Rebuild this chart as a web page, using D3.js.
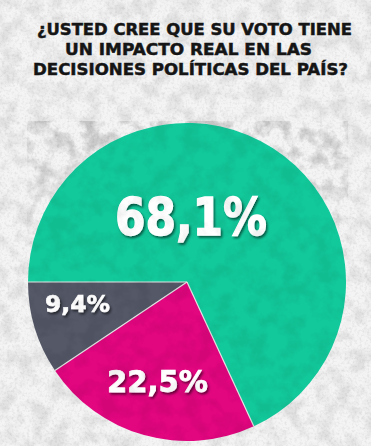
<!DOCTYPE html>
<html>
<head>
<meta charset="utf-8">
<script src="https://cdn.jsdelivr.net/npm/d3@7/dist/d3.min.js"></script>
<style>
  html, body { margin: 0; padding: 0; background: #f1f1f1; }
  svg { display: block; }
</style>
</head>
<body>
<svg id="chart" width="371" height="446"></svg>
<script>
// ---- data ----
const titleLines = ["¿USTED CREE QUE SU VOTO TIENE", "UN IMPACTO REAL EN LAS", "DECISIONES POLÍTICAS DEL PAÍS?"];
const categories = ["Sí", "No", "No sabe"];
const values = [68.1, 22.5, 9.4];
const valueLabels = ["68,1%", "22,5%", "9,4%"];

// ---- styles / layout ----
const W = 371, H = 446;
const colors = ["#12c99b", "#e2067f", "#545867"];
const cx = 187, cy = 282, R = 159;
const titleLayout = [
  { x: 194.5, y: 35, len: 315 },
  { x: 188.5, y: 55, len: 247 },
  { x: 190.5, y: 75, len: 315 }
];
const labelLayout = [
  { dx: 4, dy: -47, size: 52, len: 152 },
  { dx: -29.5, dy: 110, size: 30, len: 101 },
  { dx: -109.5, dy: 30, size: 23, len: 65 }
];

const svg = d3.select("#chart");
const defs = svg.append("defs");

// mottled texture filter
const tex = defs.append("filter").attr("id", "tex")
  .attr("x", 0).attr("y", 0).attr("width", "100%").attr("height", "100%");
tex.append("feTurbulence").attr("type", "fractalNoise")
  .attr("baseFrequency", "0.06").attr("numOctaves", 4).attr("seed", 7).attr("result", "n");
tex.append("feColorMatrix").attr("in", "n").attr("type", "matrix")
  .attr("values", "0 0 0 0 0  0 0 0 0 0  0 0 0 0 0  3.2 0 0 0 -1.3").attr("result", "a");
tex.append("feComposite").attr("in", "a").attr("in2", "SourceGraphic").attr("operator", "in");

const fine = defs.append("filter").attr("id", "fine")
  .attr("x", 0).attr("y", 0).attr("width", "100%").attr("height", "100%");
fine.append("feTurbulence").attr("type", "fractalNoise")
  .attr("baseFrequency", "0.4").attr("numOctaves", 2).attr("seed", 3).attr("result", "n");
fine.append("feColorMatrix").attr("in", "n").attr("type", "matrix")
  .attr("values", "0 0 0 0 0  0 0 0 0 0  0 0 0 0 0  2.5 0 0 0 -1.1").attr("result", "a");
fine.append("feComposite").attr("in", "a").attr("in2", "SourceGraphic").attr("operator", "in");

const shadow = defs.append("filter").attr("id", "shadow")
  .attr("x", "-20%").attr("y", "-20%").attr("width", "140%").attr("height", "150%");
shadow.append("feDropShadow").attr("dx", 1.5).attr("dy", 2).attr("stdDeviation", 1.2)
  .attr("flood-color", "#000").attr("flood-opacity", 0.55);

const fade = defs.append("linearGradient").attr("id", "fade")
  .attr("x1", 0).attr("y1", 0).attr("x2", 0).attr("y2", 1);
fade.append("stop").attr("offset", "0%").attr("stop-color", "#fff").attr("stop-opacity", 1);
fade.append("stop").attr("offset", "100%").attr("stop-color", "#fff").attr("stop-opacity", 0);
const fadeMask = defs.append("mask").attr("id", "fadeMask");
fadeMask.append("rect").attr("x", 27).attr("y", 121).attr("width", 321).attr("height", 150)
  .attr("fill", "url(#fade)");

defs.append("clipPath").attr("id", "pieClip")
  .append("circle").attr("cx", cx).attr("cy", cy).attr("r", R);

// background
svg.append("rect").attr("width", W).attr("height", H).attr("fill", "#f4f4f4");
svg.append("rect").attr("width", W).attr("height", H).attr("fill", "#000")
  .attr("filter", "url(#tex)").attr("opacity", 0.07);
svg.append("rect").attr("width", W).attr("height", H).attr("fill", "#000")
  .attr("filter", "url(#fine)").attr("opacity", 0.06);
// darker textured panel behind the pie
const panel = svg.append("g").attr("mask", "url(#fadeMask)");
panel.append("rect").attr("x", 27).attr("y", 121).attr("width", 321).attr("height", 150)
  .attr("fill", "#000").attr("filter", "url(#tex)").attr("opacity", 0.12);

// title
svg.append("g").selectAll("text").data(titleLines).join("text")
  .attr("x", (d, i) => titleLayout[i].x)
  .attr("y", (d, i) => titleLayout[i].y)
  .attr("text-anchor", "middle")
  .attr("textLength", (d, i) => titleLayout[i].len)
  .attr("lengthAdjust", "spacingAndGlyphs")
  .attr("font-family", "'DejaVu Sans', sans-serif")
  .attr("font-weight", "bold")
  .attr("font-size", 16.5)
  .attr("fill", "#151515")
  .attr("stroke", "#151515")
  .attr("stroke-width", 0.5)
  .text(d => d);

// pie
const pie = d3.pie().sort(null).value(d => d)
  .startAngle(-Math.PI / 2).endAngle(3 * Math.PI / 2);
const arc = d3.arc().innerRadius(0).outerRadius(R);
const arcs = pie(values);

const g = svg.append("g").attr("transform", `translate(${cx},${cy})`);
g.selectAll("path").data(arcs).join("path")
  .attr("d", arc)
  .attr("fill", (d, i) => colors[i]);

// subtle texture over the pie
const pt = svg.append("g").attr("clip-path", "url(#pieClip)");
pt.append("rect").attr("x", cx - R).attr("y", cy - R).attr("width", 2 * R).attr("height", 2 * R)
  .attr("fill", "#000").attr("filter", "url(#tex)").attr("opacity", 0.06);
// slice borders on top
g.selectAll("line.sep").data(arcs).join("line")
  .attr("class", "sep")
  .attr("x1", 0).attr("y1", 0)
  .attr("x2", d => R * Math.sin(d.startAngle))
  .attr("y2", d => -R * Math.cos(d.startAngle))
  .attr("stroke", "#e4e4e4").attr("stroke-width", 1.2);

// labels
g.selectAll("text.lbl").data(arcs).join("text")
  .attr("class", "lbl")
  .attr("x", (d, i) => labelLayout[i].dx)
  .attr("y", (d, i) => labelLayout[i].dy)
  .attr("text-anchor", "middle")
  .attr("textLength", (d, i) => labelLayout[i].len)
  .attr("lengthAdjust", "spacingAndGlyphs")
  .attr("font-family", "'DejaVu Sans', sans-serif")
  .attr("font-weight", "bold")
  .attr("font-size", (d, i) => labelLayout[i].size)
  .attr("fill", "#ffffff")
  .attr("stroke", "#ffffff")
  .attr("stroke-width", (d, i) => labelLayout[i].size / 40)
  .attr("filter", "url(#shadow)")
  .text((d, i) => valueLabels[i]);
</script>
</body>
</html>
